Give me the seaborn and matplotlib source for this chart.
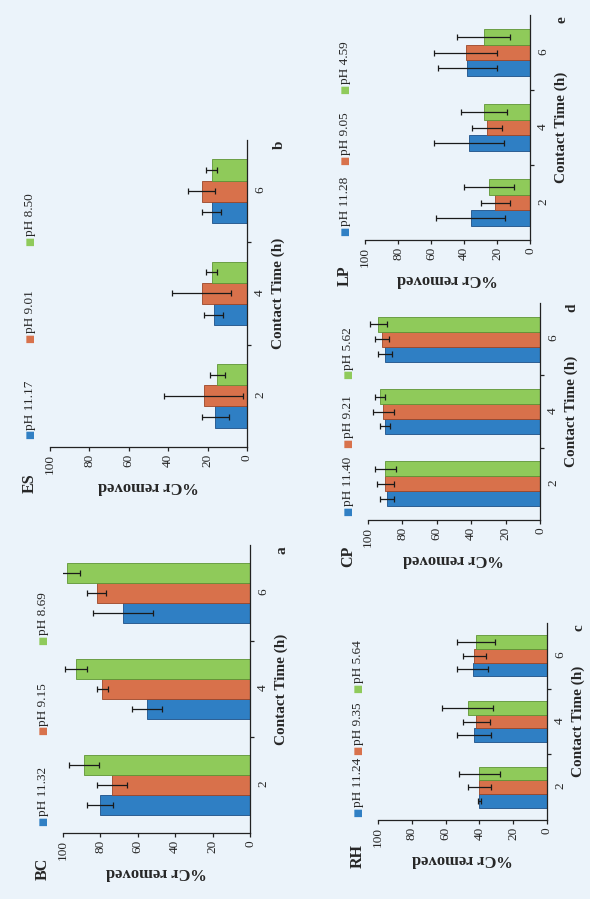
import pandas as pd
import numpy as np
import matplotlib
matplotlib.use("Agg")
import matplotlib.pyplot as plt
import seaborn as sns

# contact time categories (h)
times = ["2", "4", "6"]

# BC
bc_ph = ["pH 11.32", "pH 9.15", "pH 8.69"]
bc_vals = [[80, 55, 68], [74, 79, 82], [89, 93, 98]]
bc_err = [[7, 8, 16], [8, 3, 5], [8, 6, 7]]

# ES
es_ph = ["pH 11.17", "pH 9.01", "pH 8.50"]
es_vals = [[16, 17, 18], [22, 23, 23], [15, 18, 18]]
es_err = [[7, 5, 5], [20, 15, 7], [4, 3, 3]]

# RH
rh_ph = ["pH 11.24", "pH 9.35", "pH 5.64"]
rh_vals = [[40, 43, 44], [40, 42, 43], [40, 47, 42]]
rh_err = [[1, 10, 9], [7, 8, 7], [12, 15, 11]]

# CP
cp_ph = ["pH 11.40", "pH 9.21", "pH 5.62"]
cp_vals = [[89, 90, 90], [90, 91, 92], [90, 93, 94]]
cp_err = [[4, 3, 4], [5, 6, 4], [6, 3, 5]]

# LP
lp_ph = ["pH 11.28", "pH 9.05", "pH 4.59"]
lp_vals = [[36, 37, 38], [21, 26, 39], [25, 28, 28]]
lp_err = [[21, 21, 18], [9, 9, 19], [15, 14, 16]]

colors = ["#2f7fc4", "#d8714b", "#8fca5a"]
edges = ["#1d4f86", "#9b4628", "#5e9435"]
bg = "#ebf3fa"

sns.set_theme(style="ticks")
plt.rcParams["font.family"] = ["Liberation Serif", "DejaVu Serif"]

W, H = 590, 899
fig = plt.figure(figsize=(W / 100, H / 100), dpi=100, facecolor=bg)


def px(x, y):
    return x / W, 1 - y / H


def panel(rect, name, letter, ph, vals, err):
    x0, y0, x1, y1 = rect
    ax = fig.add_axes([x0 / W, 1 - y1 / H, (x1 - x0) / W, (y1 - y0) / H])
    ax.set_facecolor(bg)
    rows = []
    for p, v in zip(ph, vals):
        for t, val in zip(times, v):
            rows.append({"time": t, "ph": p, "val": val})
    df = pd.DataFrame(rows)
    sns.barplot(data=df, x="val", y="time", hue="ph", order=times, hue_order=ph,
                orient="h", palette=colors, width=0.62, errorbar=None,
                legend=False, ax=ax, saturation=1)
    bar_sets = list(ax.containers)
    for i, cont in enumerate(bar_sets):
        ys = [b.get_y() + b.get_height() / 2 for b in cont]
        for b in cont:
            b.set_edgecolor(edges[i])
            b.set_linewidth(0.6)
        ax.errorbar(vals[i], ys, xerr=err[i], fmt="none", ecolor="#1a1a1a",
                    elinewidth=0.9, capsize=2.2, capthick=0.9)
    ax.set_xlim(100, 0)
    ax.set_ylim(-0.5, 2.5)
    ax.set_xticks([0, 20, 40, 60, 80, 100])
    ax.yaxis.tick_right()
    ax.yaxis.set_label_position("right")
    ax.set_yticks([0.5, 1.5], minor=True)
    ax.tick_params(axis="x", labelrotation=90, labelsize=9.5, length=3, width=0.9,
                   color="#222", pad=2)
    ax.tick_params(axis="y", which="major", labelrotation=90, labelsize=9.5, length=0, pad=5)
    ax.tick_params(axis="y", which="minor", length=3, width=0.9, color="#222")
    for s in ["left", "top"]:
        ax.spines[s].set_visible(False)
    for s in ["bottom", "right"]:
        ax.spines[s].set_color("#222")
        ax.spines[s].set_linewidth(0.9)
    ax.set_xlabel("%Cr removed", rotation=180, fontsize=12, fontweight="bold", labelpad=3)
    ax.set_ylabel("Contact Time (h)", rotation=90, fontsize=11, fontweight="bold", labelpad=4)

    # panel name and letter
    fig.text(*px(x0 - 20, y1 + 36), name, rotation=90, fontsize=11.5, fontweight="bold",
             ha="center", va="center")
    fig.text(*px(x1 + 32, y0 + 5), letter, rotation=90, fontsize=11, fontweight="bold",
             ha="center", va="center")

    # legend, rotated like the rest of the figure
    hgt = y1 - y0
    for i, p in enumerate(ph):
        yy = y1 - hgt * (0.04 + 0.315 * i)
        fig.text(*px(x0 - 20, yy), "\u25a0", rotation=90, fontsize=7, color=colors[i],
                 ha="center", va="center", family=["DejaVu Sans"])
        fig.text(*px(x0 - 20, yy - 5), p, rotation=90, rotation_mode="anchor",
                 fontsize=9.5, ha="left", va="center")
    return ax


panel((63, 545, 250, 833), "BC", "a", bc_ph, bc_vals, bc_err)
panel((50, 140, 247, 447), "ES", "b", es_ph, es_vals, es_err)
panel((378, 623, 547, 820), "RH", "c", rh_ph, rh_vals, rh_err)
panel((368, 303, 540, 520), "CP", "d", cp_ph, cp_vals, cp_err)
panel((365, 15, 530, 240), "LP", "e", lp_ph, lp_vals, lp_err)

fig.savefig("out.png", dpi=100, facecolor=bg)
